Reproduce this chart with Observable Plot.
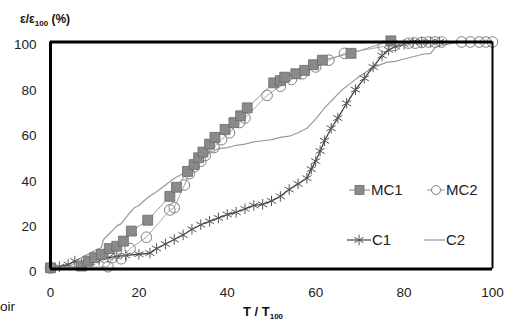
<!DOCTYPE html>
<html>
<head>
<meta charset="utf-8">
<script src="https://cdn.jsdelivr.net/npm/d3@7"></script>
<script src="https://cdn.jsdelivr.net/npm/@observablehq/plot@0.6"></script>
<style>
  html, body { margin: 0; padding: 0; background: #fff; }
  svg { display: block; }
</style>
</head>
<body>
<div id="chart"></div>
<script>
const xTicks = [0, 20, 40, 60, 80, 100];
const yTicks = [0, 20, 40, 60, 80, 100];

const mc1X = [0, 7, 8.5, 10, 11.5, 13.3, 15, 16.5, 18.3, 22, 27, 28.5, 31, 32.5, 33.5, 34.5, 36, 37.2, 39.5, 41.5, 43, 44.5, 50.5, 52, 53, 55.5, 57.5, 59.5, 61.5, 68, 77];
const mc1Y = [0.5, 1.3, 3.5, 5, 6.5, 9, 10, 12.3, 16.7, 21.5, 32, 36, 43, 46, 49, 51.5, 55, 58, 61.5, 64.5, 67.5, 71, 82, 83, 84.5, 86, 87.5, 90, 92, 95, 100.5];

const mc2X = [0, 13, 14, 16, 18, 21.7, 27, 28, 30.3, 31.4, 32.5, 34, 35, 37, 38.7, 40.5, 42.8, 44, 49, 52, 54.5, 57, 60, 63, 66.5, 75.3, 77.8, 81, 82.5, 84, 85.5, 87, 88.5, 93, 95, 97, 98.5, 100];
const mc2Y = [0.5, 1, 5, 4.5, 9, 14, 26, 27, 37, 42, 45, 47.5, 50, 53.5, 57, 60, 64.5, 66.5, 76.5, 80.5, 83.5, 86, 89, 92, 95, 98, 98.5, 99.5, 99.5, 99.8, 100, 100, 100, 100, 100, 100, 100, 100];

const c1X = [0, 2, 4, 5.5, 7, 9, 11, 13, 15, 17, 20, 22.5, 24, 26, 28, 30, 32, 34, 36, 38, 40, 42, 44, 46, 48, 50, 52, 54, 56, 58, 59, 60, 61, 62, 63.5, 65, 67, 69, 71, 73, 75, 76.5, 78, 80, 82, 84, 86, 88];
const c1Y = [0.5, 1, 2, 3.5, 2, 3, 4, 5, 5.5, 6, 6.5, 7, 9, 11, 13, 15, 17.5, 19.5, 21, 22.5, 24, 25, 26.5, 28, 28.5, 30, 32, 35, 37.5, 40, 44, 47.5, 52, 56.5, 62, 66.5, 73, 79, 84, 89, 94, 96.5, 98, 99, 100, 100, 100, 100];

const c2X = [0, 3, 5, 7, 9, 10, 11.5, 12, 13.8, 15, 16, 17.6, 19, 20, 22, 24, 26, 28, 30, 32, 33, 34, 36, 38, 40, 42, 44, 46, 48, 50, 52, 54, 56, 58, 60, 62, 64, 66, 68, 70, 72, 74, 76, 78, 80, 82, 84, 86, 87, 88, 90, 92, 96, 100];
const c2Y = [0, 1, 2, 5, 7, 8, 9.5, 13, 16.5, 19, 20, 24, 27, 28, 31.5, 34, 37, 40, 42, 44, 45.5, 49, 51, 53, 53.5, 54.5, 55, 56, 56.5, 57, 58, 58.5, 60, 62, 66, 71, 75, 79, 82, 85, 87.5, 89.5, 91, 91.5, 92.5, 93.5, 94.5, 95, 97.5, 98.5, 99, 100, 100, 100];

const zip = (xs, ys) => xs.map((x, i) => ({x, y: ys[i]}));
const mc1 = zip(mc1X, mc1Y);
const mc2 = zip(mc2X, mc2Y);
const c1 = zip(c1X, c1Y);
const c2 = zip(c2X, c2Y);

const W = 516, H = 325;
const plot = Plot.plot({
  width: W,
  height: H,
  marginLeft: 50,
  marginRight: 24,
  marginTop: 41.5,
  marginBottom: 56.5,
  style: {fontFamily: "'Liberation Sans', Arial, sans-serif", fontSize: "13.5px", color: "#222", background: "#fff"},
  x: {domain: [0, 100]},
  y: {domain: [0, 100]},
  marks: [
    Plot.axisX({ticks: xTicks, tickSize: 0, tickPadding: 18, label: null, fontSize: 13.5, fill: "#222"}),
    Plot.axisY({ticks: yTicks, tickSize: 0, tickPadding: 14, label: null, fontSize: 13.5, fill: "#222", dy: 3}),
    Plot.line(c2, {x: "x", y: "y", stroke: "#9a9a9a", strokeWidth: 1.2}),
    Plot.line(c1, {x: "x", y: "y", stroke: "#444", strokeWidth: 1.3}),
    Plot.dot(c1, {x: "x", y: "y", symbol: "asterisk", r: 5, stroke: "#555", strokeWidth: 1}),
    Plot.line(mc2, {x: "x", y: "y", stroke: "#a8a8a8", strokeWidth: 1}),
    Plot.dot(mc2, {x: "x", y: "y", symbol: "circle", r: 5.3, stroke: "#808080", fill: "none", strokeWidth: 1}),
    Plot.line(mc1, {x: "x", y: "y", stroke: "#999", strokeWidth: 1}),
    Plot.dot(mc1, {x: "x", y: "y", symbol: "square", r: 5.6, fill: "#8a8a8a", stroke: "#6a6a6a", strokeWidth: 0.8}),
    Plot.ruleY([0], {stroke: "#000", strokeWidth: 3}),
    Plot.ruleY([100], {stroke: "#000", strokeWidth: 3}),
    Plot.ruleX([0], {stroke: "#000", strokeWidth: 3}),
    Plot.ruleX([100], {stroke: "#000", strokeWidth: 2})
  ]
});
document.getElementById("chart").appendChild(plot);

const svg = d3.select(plot);
const font = "'Liberation Sans', Arial, sans-serif";

// y-axis title
const yt = svg.append("text").attr("x", 20).attr("y", 23).attr("text-anchor", "start").attr("font-family", font)
  .attr("font-size", 12).attr("font-weight", "bold").attr("fill", "#111");
yt.append("tspan").text("ε/ε");
yt.append("tspan").attr("font-size", 8).attr("dy", 3).text("100");
yt.append("tspan").attr("dy", -3).text(" (%)");

// x-axis title
const xt = svg.append("text").attr("x", 243).attr("y", 316).attr("text-anchor", "start").attr("font-family", font)
  .attr("font-size", 13).attr("font-weight", "bold").attr("fill", "#111");
xt.append("tspan").text("T / T");
xt.append("tspan").attr("font-size", 8).attr("dy", 3).text("100");

// stray text at left
svg.append("text").attr("x", 0).attr("y", 311).attr("text-anchor", "start").attr("font-family", font)
  .attr("font-size", 13.5).attr("fill", "#222").text("oir");

// legend
const leg = svg.append("g").attr("font-family", font).attr("font-size", 15).attr("fill", "#222").attr("text-anchor", "start");
const entries = [
  {name: "MC1", x: 349, y: 190, len: 21, line: "#999", sym: "square"},
  {name: "MC2", x: 427, y: 190, len: 18, line: "#a8a8a8", sym: "circle"},
  {name: "C1", x: 347, y: 240, len: 24, line: "#444", sym: "asterisk"},
  {name: "C2", x: 424, y: 240, len: 21, line: "#9a9a9a", sym: null}
];
for (const e of entries) {
  leg.append("line").attr("x1", e.x).attr("x2", e.x + e.len).attr("y1", e.y).attr("y2", e.y)
    .attr("stroke", e.line).attr("stroke-width", 1.2);
  const cx = e.x + e.len / 2;
  if (e.sym === "square") {
    leg.append("rect").attr("x", cx - 4.5).attr("y", e.y - 4.5).attr("width", 9).attr("height", 9)
      .attr("fill", "#8a8a8a").attr("stroke", "#6a6a6a").attr("stroke-width", 0.8);
  } else if (e.sym === "circle") {
    leg.append("circle").attr("cx", cx).attr("cy", e.y).attr("r", 4.5)
      .attr("fill", "#fff").attr("stroke", "#808080");
  } else if (e.sym === "asterisk") {
    leg.append("path").attr("transform", `translate(${cx},${e.y})`)
      .attr("d", d3.symbol(d3.symbolAsterisk, 80)()).attr("stroke", "#555").attr("fill", "none");
  }
  leg.append("text").attr("x", e.x + e.len + 1).attr("y", e.y).attr("dy", "0.36em").text(e.name);
}
</script>
</body>
</html>
